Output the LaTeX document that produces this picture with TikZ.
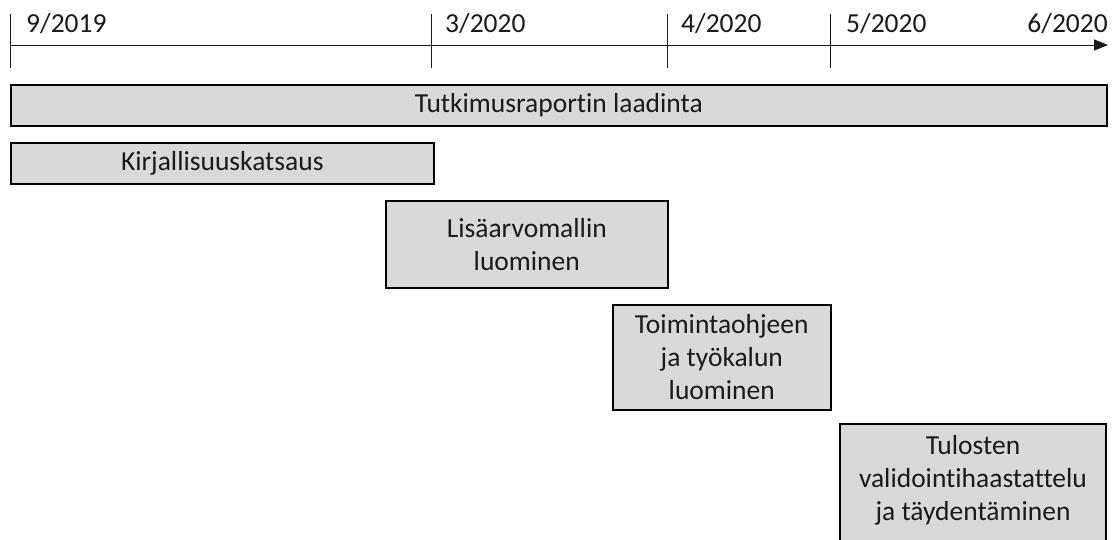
\documentclass[tikz,border=0pt]{standalone}
\usepackage{fontspec}
\setmainfont{Carlito}[Ligatures={NoCommon}]
\usetikzlibrary{arrows.meta}
\definecolor{boxfill}{HTML}{D9D9D9}
\definecolor{ink}{HTML}{1A1A1A}
\begin{document}
\begin{tikzpicture}[x=1pt,y=-1pt,
  txt/.style={font=\fontsize{27.5}{33}\selectfont, text=ink},
  datelabel/.style={txt, inner sep=0pt},
  taskbox/.style={txt, draw=black, line width=1.6pt, fill=boxfill,
    inner sep=0pt, align=center, anchor=north west},
  tick/.style={draw=ink, line width=0.9pt},
  axis/.style={draw=ink, line width=0.9pt, -{Triangle[length=14pt,width=11pt]}}]
\useasboundingbox (0,0) rectangle (1120,539);

% time axis
\coordinate (a0) at (10,45);
\coordinate (a1) at (1108,45);
\draw[axis] (a0) -- (a1);

% month ticks
\coordinate (t1a) at (10,14);   \coordinate (t1b) at (10,68);
\coordinate (t2a) at (431,14);  \coordinate (t2b) at (431,68);
\coordinate (t3a) at (667,14);  \coordinate (t3b) at (667,68);
\coordinate (t4a) at (830,14);  \coordinate (t4b) at (830,68);
\draw[tick] (t1a) -- (t1b);
\draw[tick] (t2a) -- (t2b);
\draw[tick] (t3a) -- (t3b);
\draw[tick] (t4a) -- (t4b);

% month labels
\node[datelabel, anchor=base west] (d1) at (26,32) {9/2019};
\node[datelabel, anchor=base west] (d2) at (445,32) {3/2020};
\node[datelabel, anchor=base west] (d3) at (681,32) {4/2020};
\node[datelabel, anchor=base west] (d4) at (846,32) {5/2020};
\node[datelabel, anchor=base east] (d5) at (1108,32) {6/2020};

% tasks
\node[taskbox, minimum width=1096pt, minimum height=41pt] (b1) at (10,84)
  {Tutkimusraportin laadinta};
\node[taskbox, minimum width=423pt, minimum height=41pt] (b2) at (10,142)
  {Kirjallisuuskatsaus};
\node[taskbox, minimum width=282pt, minimum height=87pt] (b3) at (385,200)
  {Lisäarvomallin\\luominen};
\node[taskbox, minimum width=218pt, minimum height=105pt] (b4) at (612,304)
  {Toimintaohjeen\\ja työkalun\\luominen};

% last task runs past the lower edge
\coordinate (b5bl) at (840,548);
\coordinate (b5tr) at (1106,424);
\coordinate (b5br) at (1106,548);
\fill[boxfill] (b5bl) rectangle (b5tr);
\draw[black, line width=1.6pt] (b5bl) |- (b5tr) -- (b5br);
\node[txt, align=center, inner sep=0pt] (b5) at (973,480)
  {Tulosten\\validointihaastattelu\\ja täydentäminen};
\end{tikzpicture}
\end{document}
